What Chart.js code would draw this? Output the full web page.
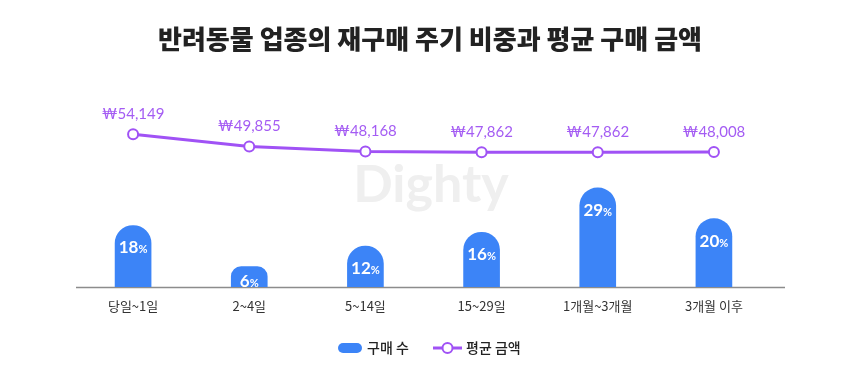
<!DOCTYPE html>
<html><head><meta charset="utf-8">
<script src="https://cdn.jsdelivr.net/npm/chart.js@4"></script>
<style>html,body{margin:0;padding:0;background:#fff}#wrap{width:860px;height:380px}</style>
</head><body><div id="wrap"><canvas id="c" width="860" height="380"></canvas></div>
<script>
const titleText = '반려동물 업종의 재구매 주기 비중과 평균 구매 금액';
const categories = ['당일~1일', '2~4일', '5~14일', '15~29일', '1개월~3개월', '3개월 이후'];
const purchaseShare = [18, 6, 12, 16, 29, 20];
const avgAmount = [54149, 49855, 48168, 47862, 47862, 48008];
const seriesNames = ['구매 수', '평균 금액'];
const watermark = 'Dighty';

const BLUE = '#3c84f7';
const PURPLE = '#a052f5';
const KR = "'Noto Sans CJK KR', 'Noto Sans', sans-serif";

const deco = {
  id: 'deco',
  beforeDatasetsDraw(chart) {
    const {ctx, chartArea} = chart;
    ctx.save();
    ctx.fillStyle = '#efefef';
    ctx.font = "bold 52px 'Lato', 'Noto Sans', sans-serif";
    ctx.textAlign = 'center'; ctx.textBaseline = 'middle';
    ctx.fillText(watermark, 431, 185);
    ctx.strokeStyle = '#8c8c8c'; ctx.lineWidth = 1.5;
    ctx.beginPath(); ctx.moveTo(chartArea.left + 1, chartArea.bottom + 0.5); ctx.lineTo(chartArea.right + 13, chartArea.bottom + 0.5); ctx.stroke();
    ctx.restore();
  },
  afterDatasetsDraw(chart) {
    const {ctx} = chart;
    ctx.save();
    ctx.fillStyle = '#222';
    ctx.font = "900 26px " + KR;
    ctx.textAlign = 'center'; ctx.textBaseline = 'middle';
    ctx.fillText(titleText, 430, 39);
    const bm = chart.getDatasetMeta(0);
    bm.data.forEach((el, i) => {
      const num = String(purchaseShare[i]);
      const y = Math.min(el.y + 22, el.base - 6);
      ctx.font = "bold 17px 'Lato', sans-serif";
      const w1 = ctx.measureText(num).width;
      ctx.font = "bold 11px 'Lato', sans-serif";
      const w2 = ctx.measureText('%').width;
      const x0 = el.x - (w1 + w2) / 2;
      ctx.fillStyle = '#fff';
      ctx.textAlign = 'left'; ctx.textBaseline = 'alphabetic';
      ctx.font = "bold 17px 'Lato', sans-serif";
      ctx.fillText(num, x0, y + 6);
      ctx.font = "bold 11px 'Lato', sans-serif";
      ctx.fillText('%', x0 + w1, y + 6);
    });
    const lm = chart.getDatasetMeta(1);
    ctx.fillStyle = '#a45cf3';
    ctx.font = "15px 'Lato', sans-serif";
    ctx.textAlign = 'center'; ctx.textBaseline = 'middle';
    lm.data.forEach((el, i) => {
      ctx.fillText('₩' + avgAmount[i].toLocaleString('en-US'), el.x, el.y - 20);
    });
    ctx.fillStyle = BLUE;
    ctx.beginPath(); ctx.roundRect(338, 343, 24, 10, 5); ctx.fill();
    ctx.fillStyle = '#222';
    ctx.font = "500 14px " + KR;
    ctx.textAlign = 'left'; ctx.textBaseline = 'middle';
    ctx.fillText(seriesNames[0], 367, 348);
    ctx.strokeStyle = PURPLE; ctx.lineWidth = 3;
    ctx.beginPath(); ctx.moveTo(433, 348); ctx.lineTo(462, 348); ctx.stroke();
    ctx.fillStyle = '#fff'; ctx.lineWidth = 2;
    ctx.beginPath(); ctx.arc(447.5, 348, 5, 0, Math.PI * 2); ctx.fill(); ctx.stroke();
    ctx.fillStyle = '#222';
    ctx.fillText(seriesNames[1], 466, 348);
    ctx.restore();
  }
};

new Chart(document.getElementById('c'), {
  data: {
    labels: categories,
    datasets: [
      {type: 'bar', label: seriesNames[0], data: purchaseShare, backgroundColor: BLUE, barThickness: 36,
       borderRadius: {topLeft: 18, topRight: 18, bottomLeft: 0, bottomRight: 0}, borderSkipped: 'bottom', yAxisID: 'y1', order: 2},
      {type: 'line', label: seriesNames[1], data: avgAmount, borderColor: PURPLE, borderWidth: 3,
       pointRadius: 5, pointHoverRadius: 5, pointBackgroundColor: '#fff', pointBorderColor: PURPLE, pointBorderWidth: 2,
       tension: 0, yAxisID: 'y2', order: 1}
    ]
  },
  options: {
    responsive: false, animation: false,
    layout: {padding: {left: 75, right: 88, top: 100, bottom: 0}},
    plugins: {legend: {display: false}, tooltip: {enabled: false}, title: {display: false}},
    scales: {
      x: {
        grid: {display: false, drawTicks: false}, border: {display: false},
        ticks: {color: '#333', font: {family: KR, size: 13}, padding: 11},
        afterFit(s) { s.height = 93; }
      },
      y1: {display: false, min: 0, max: 54.7},
      y2: {display: false, min: 814, max: 66130}
    }
  },
  plugins: [deco]
});
</script>
</body></html>
